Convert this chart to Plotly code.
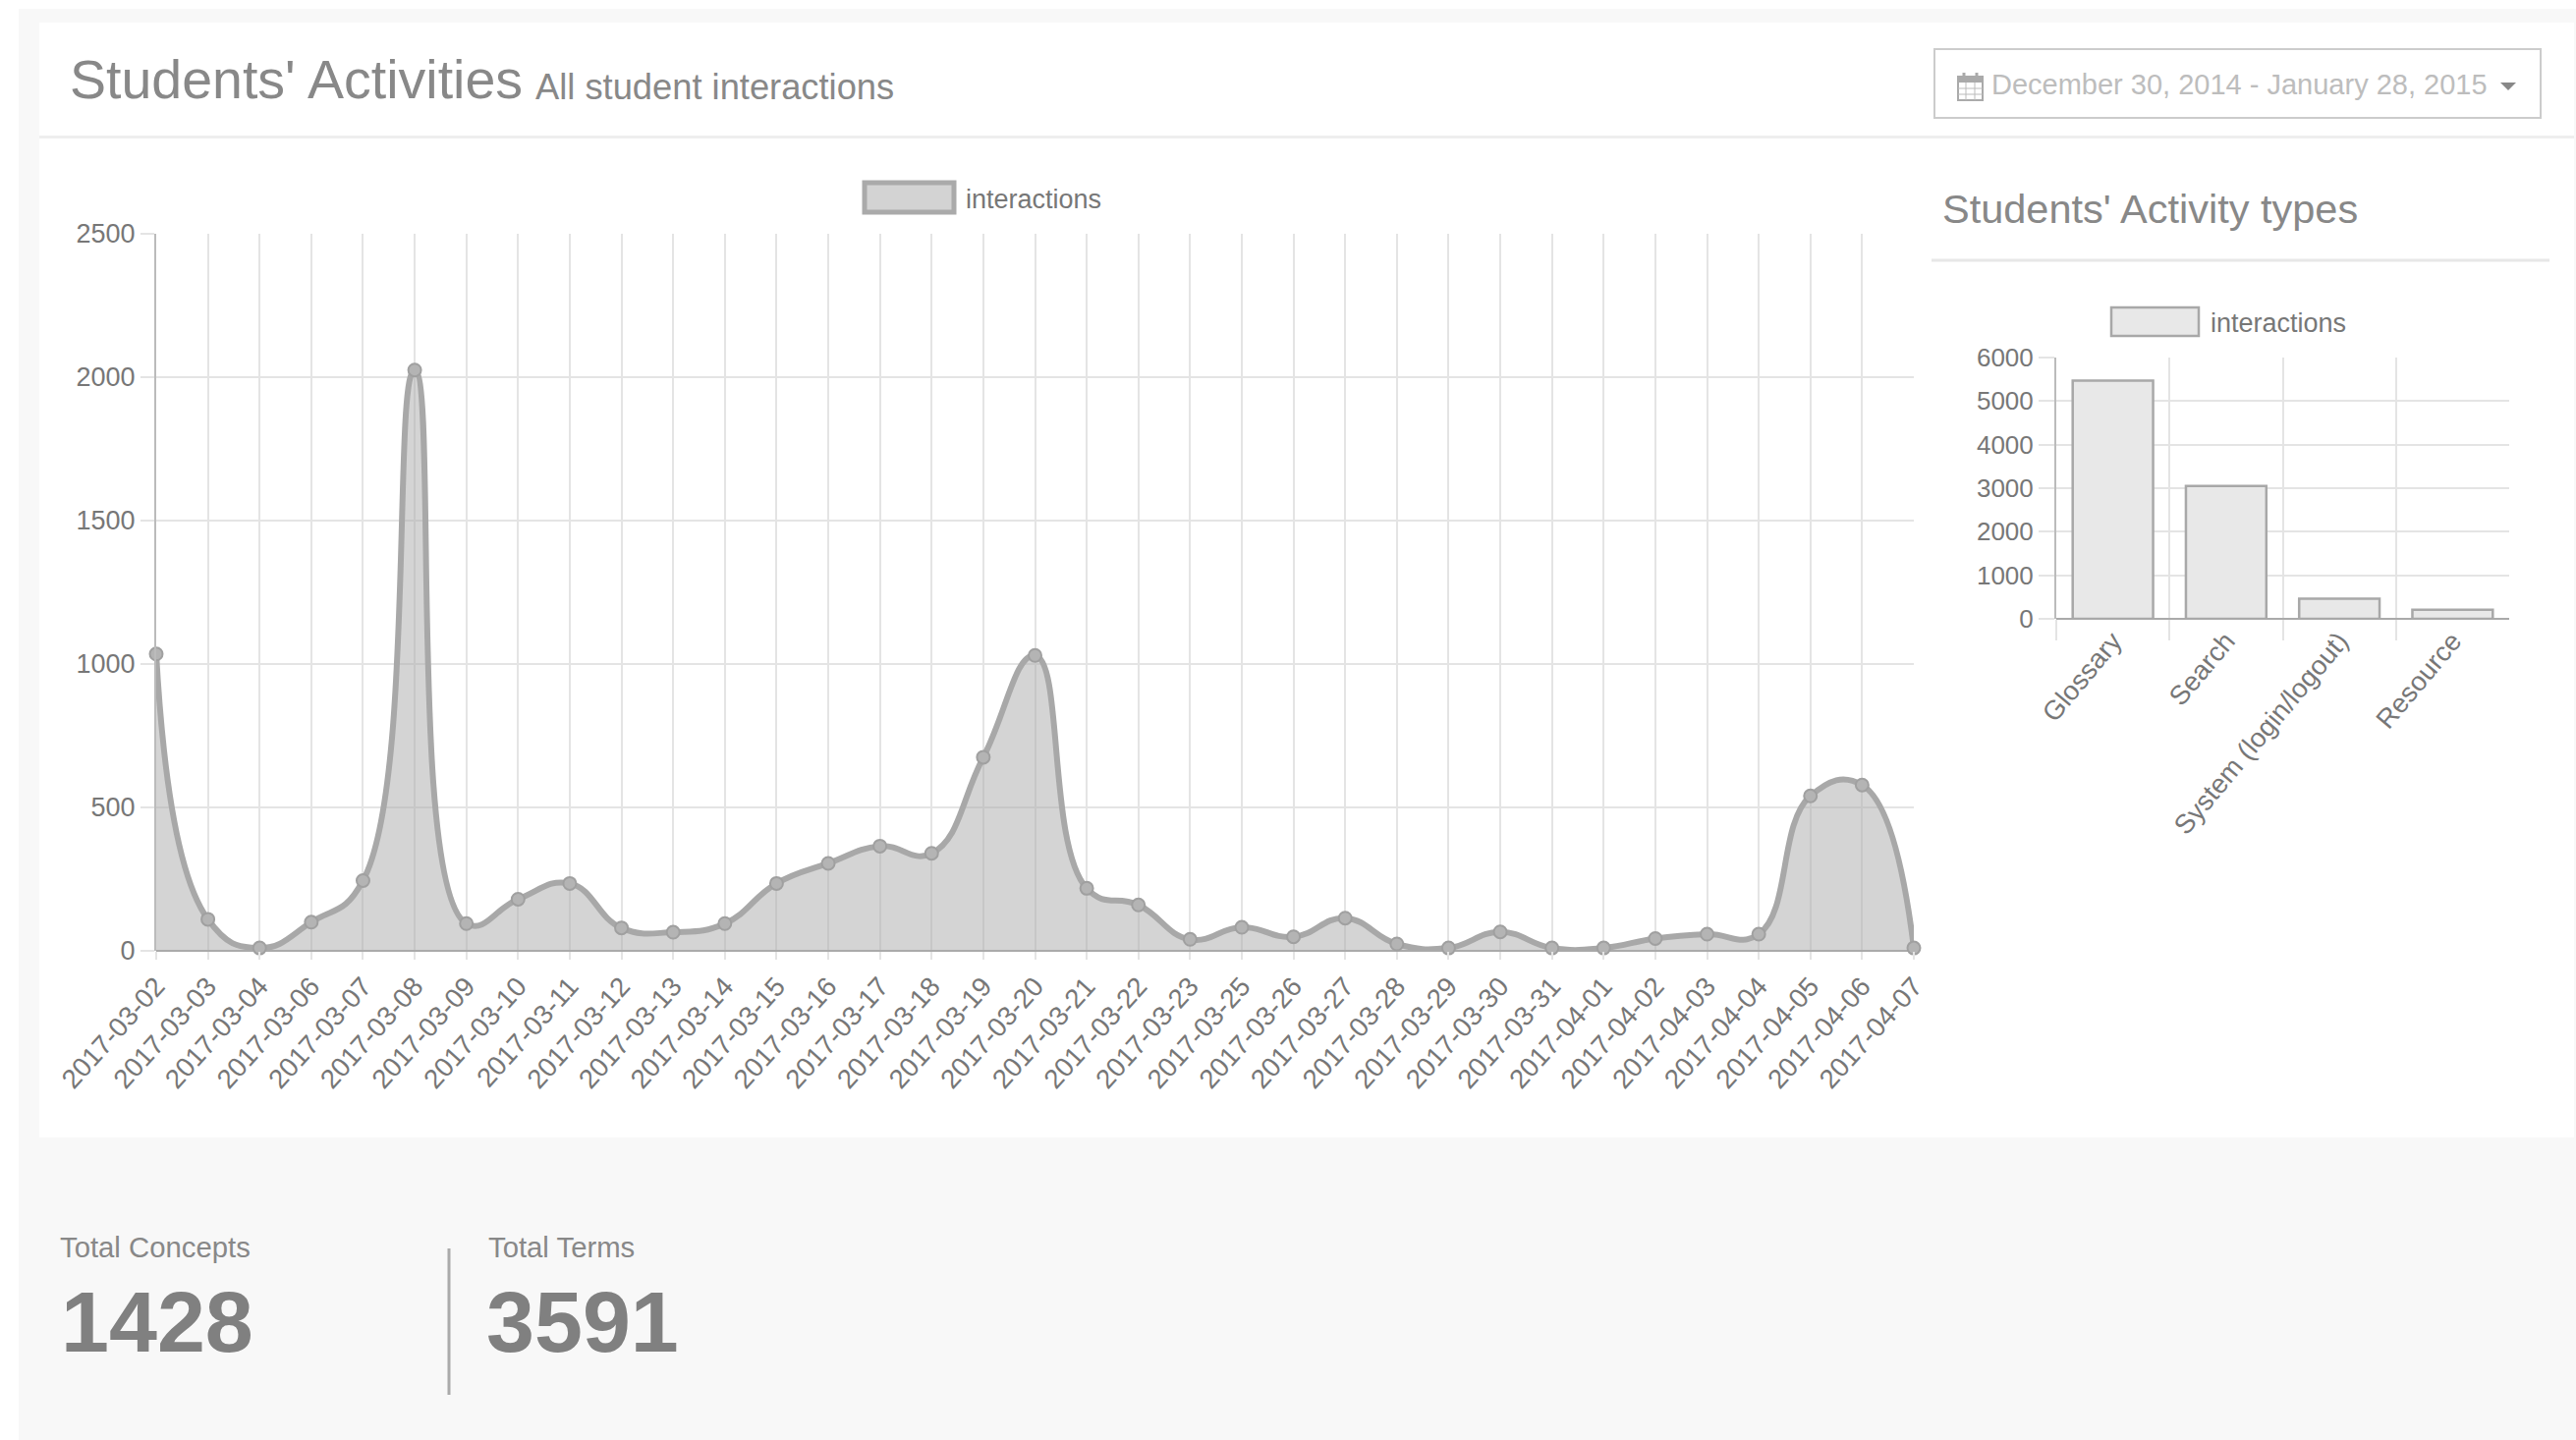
import plotly.graph_objects as go

W, H = 2622, 1466

dates = ["2017-03-02","2017-03-03","2017-03-04","2017-03-06","2017-03-07","2017-03-08","2017-03-09",
         "2017-03-10","2017-03-11","2017-03-12","2017-03-13","2017-03-14","2017-03-15","2017-03-16",
         "2017-03-17","2017-03-18","2017-03-19","2017-03-20","2017-03-21","2017-03-22","2017-03-23",
         "2017-03-25","2017-03-26","2017-03-27","2017-03-28","2017-03-29","2017-03-30","2017-03-31",
         "2017-04-01","2017-04-02","2017-04-03","2017-04-04","2017-04-05","2017-04-06","2017-04-07"]
interactions = [1035,110,10,100,245,2025,95,180,235,80,65,95,235,305,365,340,675,1030,218,160,40,
                82,49,114,24,10,66,10,10,43,58,58,540,578,10]
activity_types = ["Glossary","Search","System (login/logout)","Resource"]
activity_values = [5470,3050,465,207]
y_ticks_line = [0,500,1000,1500,2000,2500]
y_ticks_bar = [0,1000,2000,3000,4000,5000,6000]

FONT = "Liberation Sans"
TICK = "#777777"
GRID = "#e4e4e4"

def px(x): return x / W
def py(y): return 1 - y / H

def rect(x0, y0, x1, y1, fill="rgba(0,0,0,0)", line="rgba(0,0,0,0)", lw=0, layer="below"):
    return dict(type="rect", xref="paper", yref="paper", x0=px(x0), x1=px(x1), y0=py(y0), y1=py(y1),
                fillcolor=fill, line=dict(color=line, width=lw), layer=layer)

def hv(x0, y0, x1, y1, color, lw, layer="below"):
    return dict(type="line", xref="paper", yref="paper", x0=px(x0), x1=px(x1), y0=py(y0), y1=py(y1),
                line=dict(color=color, width=lw), layer=layer)

def label(x, y, text, size, color="#888888", bold=False, anchor="left"):
    t = f"<b>{text}</b>" if bold else text
    return dict(xref="paper", yref="paper", x=px(x), y=py(y), text=t, showarrow=False, xanchor=anchor,
                yanchor="middle", font=dict(family=FONT, size=size, color=color), borderpad=0, borderwidth=0)

shapes = [
    rect(19, 9, W, H, fill="#f8f8f8"),
    rect(40, 23, W - 2, 1158, fill="#ffffff"),
    hv(40, 139.5, W - 2, 139.5, "#eeeeee", 3),
    rect(1969, 50, 2586, 120, line="#cccccc", lw=2),
    # calendar icon
    rect(1993, 78, 2018, 102, line="#aaaaaa", lw=2),
    rect(1993, 78, 2018, 84, fill="#aaaaaa"),
    hv(2001, 84, 2001, 102, "#bbbbbb", 1), hv(2010, 84, 2010, 102, "#bbbbbb", 1),
    hv(1993, 90, 2018, 90, "#bbbbbb", 1), hv(1993, 96, 2018, 96, "#bbbbbb", 1),
    hv(1999, 74, 1999, 80, "#aaaaaa", 3), hv(2012, 74, 2012, 80, "#aaaaaa", 3),
    # caret
    dict(type="path", xref="paper", yref="paper",
         path=f"M {px(2545)} {py(84)} L {px(2561)} {py(84)} L {px(2553)} {py(92)} Z",
         fillcolor="#888888", line=dict(width=0), layer="above"),
    hv(1966, 265, 2595, 265, "#e7e7e7", 3),
    rect(880, 186, 971, 216, fill="#d3d3d3", line="#aaaaaa", lw=5),
    rect(2149, 313, 2238, 342, fill="#e8e8e8", line="#a8a8a8", lw=2.5),
    hv(457, 1271, 457, 1420, "#aaaaaa", 3),
]

annotations = [
    label(71, 81, "Students' Activities", 55.5),
    label(545, 88, "All student interactions", 36.3),
    label(2027, 86, "December 30, 2014 - January 28, 2015", 29, color="#bdbdbd"),
    label(1977, 212, "Students' Activity types", 41.5),
    label(983, 203, "interactions", 27, color=TICK),
    label(2250, 329, "interactions", 27, color=TICK),
    label(61, 1269, "Total Concepts", 29.3),
    label(497, 1269, "Total Terms", 29.3),
    label(62, 1345, "1428", 88, bold=True, color="#808080"),
    label(495, 1345, "3591", 88, bold=True, color="#808080"),
]

fig = go.Figure()
fig.add_trace(go.Scatter(
    x=dates, y=interactions, mode="lines+markers", name="interactions", xaxis="x", yaxis="y",
    fill="tozeroy", fillcolor="rgba(170,170,170,0.5)", cliponaxis=False,
    line=dict(color="#a8a8a8", width=6, shape="spline", smoothing=1.3),
    marker=dict(size=13, color="#b4b4b4", line=dict(color="#a0a0a0", width=2)),
))
fig.add_trace(go.Bar(
    x=activity_types, y=activity_values, name="interactions", xaxis="x2", yaxis="y2", width=0.71,
    marker=dict(color="#e8e8e8", line=dict(color="#a8a8a8", width=2.5)),
))

tickfont = dict(family=FONT, size=27, color=TICK)
tickfont_x = dict(family=FONT, size=27.5, color=TICK)
tickfont_bar = dict(family=FONT, size=26, color=TICK)
tickfont_barx = dict(family=FONT, size=27.5, color=TICK)
fig.update_layout(
    width=W, height=H, margin=dict(l=0, r=0, t=0, b=0), autosize=False,
    paper_bgcolor="#ffffff", plot_bgcolor="rgba(0,0,0,0)", showlegend=False,
    shapes=shapes, annotations=annotations,
    xaxis=dict(domain=[px(159), px(1948)], anchor="y", type="category", range=[0, len(dates) - 1],
               categoryorder="array", categoryarray=dates, tickmode="array", tickvals=dates, ticktext=dates,
               tickangle=-48, tickfont=tickfont_x, showgrid=True, gridcolor=GRID, gridwidth=1.5,
               ticks="outside", ticklen=8, tickcolor=GRID, tickwidth=1.5, showline=False, automargin=False),
    yaxis=dict(domain=[py(968), py(238)], anchor="x", range=[0, 2500], tickmode="array", tickvals=y_ticks_line,
               tickfont=tickfont, showgrid=True, gridcolor=GRID, gridwidth=1.5, ticks="outside", ticklen=14,
               tickcolor=GRID, tickwidth=1.5, showline=True, linecolor="#bbbbbb", linewidth=2,
               zeroline=True, zerolinecolor="#aaaaaa", zerolinewidth=2, automargin=False),
    xaxis2=dict(domain=[px(2093), px(2554)], anchor="y2", type="category", range=[-0.5, 3.5],
                tickson="boundaries", tickangle=-50, tickfont=tickfont_barx, showgrid=True, gridcolor=GRID, gridwidth=1.5,
                ticks="outside", ticklen=21, tickcolor=GRID, tickwidth=1.5, automargin=False),
    yaxis2=dict(domain=[py(630), py(364)], anchor="x2", range=[0, 6000], tickmode="array", tickvals=y_ticks_bar,
                tickfont=tickfont_bar, showgrid=True, gridcolor=GRID, gridwidth=1.5, ticks="outside", ticklen=16,
                tickcolor=GRID, tickwidth=1.5, showline=True, linecolor="#bbbbbb", linewidth=2,
                zeroline=True, zerolinecolor="#aaaaaa", zerolinewidth=2, automargin=False),
)

fig.write_html("out.html", config={"displayModeBar": False},
               post_script="document.body.style.margin='0';document.body.style.overflow='hidden';")
